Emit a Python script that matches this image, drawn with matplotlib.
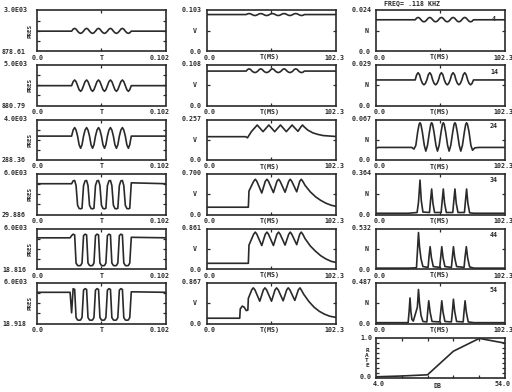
import matplotlib
matplotlib.use("Agg")
import matplotlib.pyplot as plt

W, H = 512, 392
INK = "#2a2a2a"
TXT = dict(family="DejaVu Sans Mono", weight="bold", size=4.8, color=INK)

# ---------------- stimulus column (time in s) ----------------
t_stim = [0.0, 0.0263,
          0.0275, 0.0287, 0.0299, 0.0310, 0.0322, 0.0334, 0.0346, 0.0357,
          0.0369, 0.0381, 0.0393, 0.0404, 0.0416, 0.0428, 0.0440, 0.0451,
          0.0463, 0.0475, 0.0487, 0.0498, 0.0510, 0.0522, 0.0534, 0.0545,
          0.0557, 0.0569, 0.0581, 0.0592, 0.0604, 0.0616, 0.0628, 0.0639,
          0.0651, 0.0663, 0.0675, 0.0686, 0.0698, 0.0710, 0.0722, 0.0733,
          0.0745, 0.102]

stim_1 = [1918, 1918,
          1918, 2023, 2066, 2023, 1918, 1835, 1801, 1835,
          1918, 2023, 2066, 2023, 1918, 1835, 1801, 1835,
          1918, 2023, 2066, 2023, 1918, 1835, 1801, 1835,
          1918, 2023, 2066, 2023, 1918, 1835, 1801, 1835,
          1918, 2023, 2066, 2023, 1918, 1835, 1801, 1835,
          1918, 1918]
stim_2 = [2899, 2899,
          2899, 3309, 3476, 3309, 2899, 2489, 2322, 2489,
          2899, 3309, 3476, 3309, 2899, 2489, 2322, 2489,
          2899, 3309, 3476, 3309, 2899, 2489, 2322, 2489,
          2899, 3309, 3476, 3309, 2899, 2489, 2322, 2489,
          2899, 3309, 3476, 3309, 2899, 2489, 2322, 2489,
          2899, 2899]
stim_3 = [2478, 2478,
          2478, 3032, 3258, 3032, 2478, 1688, 1365, 1688,
          2478, 3032, 3258, 3032, 2478, 1688, 1365, 1688,
          2478, 3032, 3258, 3032, 2478, 1688, 1365, 1688,
          2478, 3032, 3258, 3032, 2478, 1688, 1365, 1688,
          2478, 3032, 3258, 3032, 2478, 1688, 1365, 1688,
          2478, 2478]
stim_4 = [4567, 4567,
          4567, 4990, 5045, 4300, 1400, 920, 866, 950,
          4300, 4990, 5045, 4300, 1400, 920, 866, 950,
          4300, 4990, 5045, 4300, 1400, 920, 866, 950,
          4300, 4990, 5045, 4300, 1400, 920, 866, 950,
          4300, 4990, 5045, 4300, 1400, 920, 866, 950,
          4700, 4567]
stim_5 = [4624, 4624,
          4950, 5163, 5050, 900, 540, 497, 540, 900,
          4950, 5163, 5050, 900, 540, 497, 540, 900,
          4950, 5163, 5050, 900, 540, 497, 540, 900,
          4950, 5163, 5050, 900, 540, 497, 540, 900,
          4950, 5163, 5050, 900, 540, 497, 540, 900,
          4700, 4624]
stim_6 = [4624, 4624,
          1600, 5163, 5050, 900, 540, 497, 540, 900,
          4950, 5163, 5050, 900, 540, 497, 540, 900,
          4950, 5163, 5050, 900, 540, 497, 540, 900,
          4950, 5163, 5050, 900, 540, 497, 540, 900,
          4950, 5163, 5050, 900, 540, 497, 540, 900,
          4700, 4624]
stim_rows = [stim_1, stim_2, stim_3, stim_4, stim_5, stim_6]
stim_top = [3000.0, 5000.0, 4000.0, 6000.0, 6000.0, 6000.0]
stim_top_lbl = ["3.0E03", "5.0E03", "4.0E03", "6.0E03", "6.0E03", "6.0E03"]
stim_bot = [878.61, 880.79, 288.36, 29.886, 18.816, 18.918]
stim_bot_lbl = ["878.61", "880.79", "288.36", "29.886", "18.816", "18.918"]

# ---------------- shared burst grid for low-level traces (ms) ----------------
t_burst = [0.0,
           31.20, 32.35, 33.50, 34.65, 35.80, 36.96, 38.11, 39.26,
           40.41, 41.56, 42.71, 43.86, 45.01, 46.16, 47.31, 48.47,
           49.62, 50.77, 51.92, 53.07, 54.22, 55.37, 56.52, 57.67,
           58.82, 59.98, 61.13, 62.28, 63.43, 64.58, 65.73, 66.88,
           68.03, 69.18, 70.33, 71.49, 72.64, 73.79, 74.94, 76.09,
           77.24, 102.3]

# ---------------- V column ----------------
v_1 = [0.0927,
       0.0927, 0.0945, 0.0952, 0.0945, 0.0927, 0.0909, 0.0902, 0.0909,
       0.0927, 0.0945, 0.0952, 0.0945, 0.0927, 0.0909, 0.0902, 0.0909,
       0.0927, 0.0945, 0.0952, 0.0945, 0.0927, 0.0909, 0.0902, 0.0909,
       0.0927, 0.0945, 0.0952, 0.0945, 0.0927, 0.0909, 0.0902, 0.0909,
       0.0927, 0.0945, 0.0952, 0.0945, 0.0927, 0.0909, 0.0902, 0.0909,
       0.0927, 0.0927]
v_2 = [0.0918,
       0.0918, 0.0961, 0.0978, 0.0961, 0.0918, 0.0890, 0.0878, 0.0890,
       0.0918, 0.0961, 0.0978, 0.0961, 0.0918, 0.0890, 0.0878, 0.0890,
       0.0918, 0.0961, 0.0978, 0.0961, 0.0918, 0.0890, 0.0878, 0.0890,
       0.0918, 0.0961, 0.0978, 0.0961, 0.0918, 0.0890, 0.0878, 0.0890,
       0.0918, 0.0961, 0.0978, 0.0961, 0.0918, 0.0890, 0.0878, 0.0890,
       0.0918, 0.0918]
t_v3 = [0, 30.7, 32.2, 35.3, 38.7, 39.9, 41.1, 44.5, 47.9, 49.1, 50.3, 53.7,
        57.1, 58.3, 59.5, 62.9, 66.3, 67.5, 68.7, 72.1, 74.5, 75.7, 76.9,
        79.8, 83.9, 88.0, 92.1, 97.2, 102.3]
v_3 = [0.148, 0.148, 0.141, 0.180, 0.211, 0.222, 0.211, 0.180, 0.211, 0.222,
       0.211, 0.180, 0.211, 0.222, 0.211, 0.180, 0.211, 0.222, 0.211, 0.182,
       0.211, 0.222, 0.211, 0.190, 0.172, 0.162, 0.155, 0.152, 0.149]
t_v45 = [0, 32.9, 33.4, 37.1, 38.4, 39.6, 43.5, 46.3, 47.6, 48.8, 52.7, 55.5,
         56.8, 58.0, 61.9, 64.8, 66.0, 67.2, 71.1, 73.5, 74.7, 75.9, 77.7,
         81.8, 85.9, 90.0, 94.1, 98.2, 102.3]
v_4 = [0.126, 0.126, 0.406, 0.574, 0.609, 0.574, 0.371, 0.574, 0.609, 0.574,
       0.378, 0.574, 0.609, 0.574, 0.385, 0.574, 0.609, 0.574, 0.392, 0.574,
       0.609, 0.574, 0.504, 0.392, 0.308, 0.245, 0.196, 0.161, 0.140]
v_5 = [0.121, 0.121, 0.508, 0.740, 0.784, 0.740, 0.499, 0.740, 0.784, 0.740,
       0.499, 0.740, 0.784, 0.740, 0.508, 0.740, 0.784, 0.740, 0.517, 0.740,
       0.784, 0.740, 0.646, 0.491, 0.379, 0.284, 0.215, 0.164, 0.138]
t_v6 = [0, 26.1, 26.5, 28.1, 29.7, 31.2, 32.5, 32.9, 35.6, 36.8, 38.1, 41.9,
        44.8, 46.0, 47.3, 51.2, 54.0, 55.2, 56.5, 60.4, 63.2, 64.4, 65.7,
        69.6, 72.4, 73.7, 74.9, 76.7, 80.8, 84.9, 89.0, 93.1, 97.2, 102.3]
v_6 = [0.113, 0.113, 0.312, 0.373, 0.347, 0.277, 0.286, 0.538, 0.720, 0.763,
       0.720, 0.477, 0.720, 0.763, 0.720, 0.477, 0.720, 0.763, 0.720, 0.486,
       0.720, 0.763, 0.720, 0.494, 0.720, 0.763, 0.711, 0.624, 0.468, 0.347,
       0.260, 0.199, 0.156, 0.130]
v_rows = [(t_burst, v_1), (t_burst, v_2), (t_v3, v_3),
          (t_v45, v_4), (t_v45, v_5), (t_v6, v_6)]
v_top = [0.103, 0.108, 0.257, 0.700, 0.861, 0.867]

# ---------------- N column ----------------
n_1 = [0.0185,
       0.0185, 0.0195, 0.0199, 0.0195, 0.0185, 0.0176, 0.0173, 0.0176,
       0.0185, 0.0195, 0.0199, 0.0195, 0.0185, 0.0176, 0.0173, 0.0176,
       0.0185, 0.0195, 0.0199, 0.0195, 0.0185, 0.0176, 0.0173, 0.0176,
       0.0185, 0.0195, 0.0199, 0.0195, 0.0185, 0.0176, 0.0173, 0.0176,
       0.0185, 0.0195, 0.0199, 0.0195, 0.0185, 0.0176, 0.0173, 0.0176,
       0.0185, 0.0185]
n_2 = [0.0183,
       0.0183, 0.0220, 0.0235, 0.0220, 0.0183, 0.0158, 0.0148, 0.0158,
       0.0183, 0.0220, 0.0235, 0.0220, 0.0183, 0.0158, 0.0148, 0.0158,
       0.0183, 0.0220, 0.0235, 0.0220, 0.0183, 0.0158, 0.0148, 0.0158,
       0.0183, 0.0220, 0.0235, 0.0220, 0.0183, 0.0158, 0.0148, 0.0158,
       0.0183, 0.0220, 0.0235, 0.0220, 0.0183, 0.0158, 0.0148, 0.0158,
       0.0183, 0.0183]
t_n3 = [0, 2.0, 28.6, 30.2, 31.7, 33.2, 34.3, 35.0, 35.7, 36.8, 38.4, 39.6,
        40.9, 42.5, 43.5, 44.2, 44.9, 46.0, 47.6, 48.8, 50.1, 51.7, 52.7,
        53.4, 54.1, 55.2, 56.8, 58.0, 59.3, 60.9, 61.9, 62.6, 63.3, 64.4,
        66.0, 67.2, 68.5, 70.1, 71.1, 71.8, 72.5, 73.7, 75.2, 76.5, 78.3,
        81.8, 102.3]
n_3 = [0.0194, 0.0208, 0.0208, 0.0181, 0.0241, 0.0469, 0.0590, 0.0616,
       0.0590, 0.0469, 0.0241, 0.0147, 0.0241, 0.0469, 0.0590, 0.0616,
       0.0590, 0.0469, 0.0241, 0.0147, 0.0241, 0.0469, 0.0590, 0.0616,
       0.0590, 0.0469, 0.0241, 0.0147, 0.0241, 0.0469, 0.0590, 0.0616,
       0.0590, 0.0469, 0.0241, 0.0147, 0.0241, 0.0469, 0.0590, 0.0616,
       0.0590, 0.0469, 0.0241, 0.0161, 0.0201, 0.0208, 0.0208]
t_n4 = [0, 25.6, 32.7, 33.8, 35.0, 36.0, 37.3, 42.5, 43.2, 44.2, 45.2, 46.5,
        51.7, 52.4, 53.4, 54.4, 55.8, 60.9, 61.6, 62.6, 63.6, 65.0, 70.1,
        70.8, 71.8, 72.8, 74.2, 77.7, 102.3]
n_4 = [0.011, 0.011, 0.018, 0.109, 0.309, 0.127, 0.022, 0.018, 0.109, 0.229,
       0.102, 0.018, 0.018, 0.109, 0.229, 0.102, 0.018, 0.018, 0.109, 0.229,
       0.102, 0.018, 0.018, 0.109, 0.229, 0.102, 0.015, 0.011, 0.011]
t_n5 = [0, 25.6, 32.2, 32.9, 33.8, 34.6, 35.8, 37.3, 41.4, 42.1, 43.0, 44.0,
        45.5, 50.6, 51.4, 52.2, 53.2, 54.7, 59.8, 60.6, 61.4, 62.4, 63.9,
        69.8, 70.6, 71.6, 72.6, 74.2, 77.7, 102.3]
n_5 = [0.011, 0.011, 0.016, 0.213, 0.479, 0.293, 0.133, 0.032, 0.021, 0.160,
       0.293, 0.149, 0.032, 0.021, 0.160, 0.293, 0.149, 0.032, 0.021, 0.160,
       0.293, 0.149, 0.032, 0.021, 0.160, 0.293, 0.149, 0.027, 0.011, 0.011]
t_n6 = [0, 25.6, 26.4, 27.1, 27.8, 28.6, 29.7, 32.9, 33.8, 34.6, 35.8, 37.3,
        40.4, 41.1, 41.9, 43.0, 44.5, 50.6, 51.4, 52.2, 53.2, 54.7, 59.8,
        60.6, 61.4, 62.4, 63.9, 69.1, 69.8, 70.6, 71.6, 73.1, 77.7, 102.3]
n_6 = [0.010, 0.010, 0.146, 0.307, 0.146, 0.049, 0.029, 0.195, 0.409, 0.244,
       0.097, 0.024, 0.019, 0.146, 0.273, 0.136, 0.024, 0.019, 0.146, 0.273,
       0.136, 0.024, 0.019, 0.146, 0.292, 0.146, 0.024, 0.019, 0.146, 0.273,
       0.136, 0.019, 0.010, 0.010]
n_rows = [(t_burst, n_1), (t_burst, n_2), (t_n3, n_3),
          (t_n4, n_4), (t_n5, n_5), (t_n6, n_6)]
n_top = [0.024, 0.029, 0.067, 0.364, 0.532, 0.487]
levels_db = [4, 14, 24, 34, 44, 54]

# ---------------- rate vs level ----------------
rate_db = [4, 14, 24, 34, 44, 54]
rate = [0.03, 0.05, 0.08, 0.67, 0.99, 0.87]

# ---------------- layout (pixels) ----------------
fig = plt.figure(figsize=(W / 100, H / 100), dpi=100)
fig.patch.set_facecolor("white")

ROW_TOP = [10.5, 65.0, 119.5, 174.0, 228.5, 283.0]
ROW_H = 40.5
COL_X = [36.7, 206.7, 375.7]
COL_W = 129.5
LW = 1.2


def add_panel(x, top, w, h):
    ax = fig.add_axes([x / W, 1 - (top + h) / H, w / W, h / H])
    for s in ax.spines.values():
        s.set_linewidth(1.2)
        s.set_color(INK)
    ax.tick_params(direction="in", length=2.5, width=0.9, colors=INK,
                   top=True, right=True, labelbottom=False, labelleft=False)
    return ax


def ptext(x, y, s, ha="center", va="center", **kw):
    fig.text(x / W, 1 - y / H, s, ha=ha, va=va, **{**TXT, **kw})


for i in range(6):
    top = ROW_TOP[i]
    bot = top + ROW_H

    # stimulus
    ax = add_panel(COL_X[0], top, COL_W, ROW_H)
    ax.plot(t_stim, stim_rows[i], color=INK, lw=LW)
    lo, hi = stim_bot[i], stim_top[i]
    ax.set_xlim(0, 0.102)
    ax.set_ylim(lo, hi)
    ax.set_xticks([0.051])
    ax.set_yticks([lo + (hi - lo) * f for f in (0.25, 0.5, 0.75)])
    ptext(27.5, top - 0.5, stim_top_lbl[i], ha="right")
    ptext(26.0, bot + 0.5, stim_bot_lbl[i], ha="right")
    ptext(37.5, bot + 6.5, "0.0")
    ptext(102.0, bot + 6.5, "T")
    ptext(160.0, bot + 6.5, "0.102")
    ptext(29.5, top + ROW_H / 2, "PRES", rotation=90, size=4.2)

    # V
    ax = add_panel(COL_X[1], top, COL_W, ROW_H)
    tv, yv = v_rows[i]
    ax.plot(tv, yv, color=INK, lw=LW)
    ax.set_xlim(0, 102.3)
    ax.set_ylim(0, v_top[i])
    ax.set_xticks([51.15])
    ax.set_yticks([v_top[i] / 2])
    ptext(202.0, top - 0.5, f"{v_top[i]:.3f}", ha="right")
    ptext(202.0, bot + 0.5, "0.0", ha="right")
    ptext(210.0, bot + 6.5, "0.0")
    ptext(270.0, bot + 6.5, "T(MS)")
    ptext(334.0, bot + 6.5, "102.3")
    ptext(195.0, top + ROW_H / 2, "V")

    # N
    ax = add_panel(COL_X[2], top, COL_W, ROW_H)
    tn, yn = n_rows[i]
    ax.plot(tn, yn, color=INK, lw=LW)
    ax.set_xlim(0, 102.3)
    ax.set_ylim(0, n_top[i])
    ax.set_xticks([51.15])
    ax.set_yticks([n_top[i] / 2])
    ptext(371.5, top - 0.5, f"{n_top[i]:.3f}", ha="right")
    ptext(371.0, bot + 0.5, "0.0", ha="right")
    ptext(380.0, bot + 6.5, "0.0")
    ptext(440.0, bot + 6.5, "T(MS)")
    ptext(503.0, bot + 6.5, "102.3")
    ptext(366.7, top + ROW_H / 2, "N")
    ptext(494.0, top + (8.5 if i == 0 else 6.5), str(levels_db[i]))

# title of the N column
ptext(412.0, 3.2, "FREQ= .118 KHZ")

# rate-level function
top, h = 338.0, 40.0
ax = add_panel(COL_X[2], top, COL_W, h)
ax.plot(rate_db, rate, color=INK, lw=LW)
ax.set_xlim(4, 54)
ax.set_ylim(0, 1)
ax.set_xticks([14, 24, 34, 44])
ax.set_yticks([0.125 * k for k in range(1, 8)])
ptext(372.0, top, "1.0", ha="right")
ptext(372.0, top + h - 1, "0.0", ha="right")
ptext(379.0, top + h + 6.5, "4.0")
ptext(437.0, top + h + 8.5, "DB")
ptext(503.0, top + h + 6.5, "54.0")
ptext(367.0, top + h / 2, "R\nA\nT\nE", linespacing=0.95, size=4.4)

fig.savefig("out.png", dpi=100, facecolor="white")
